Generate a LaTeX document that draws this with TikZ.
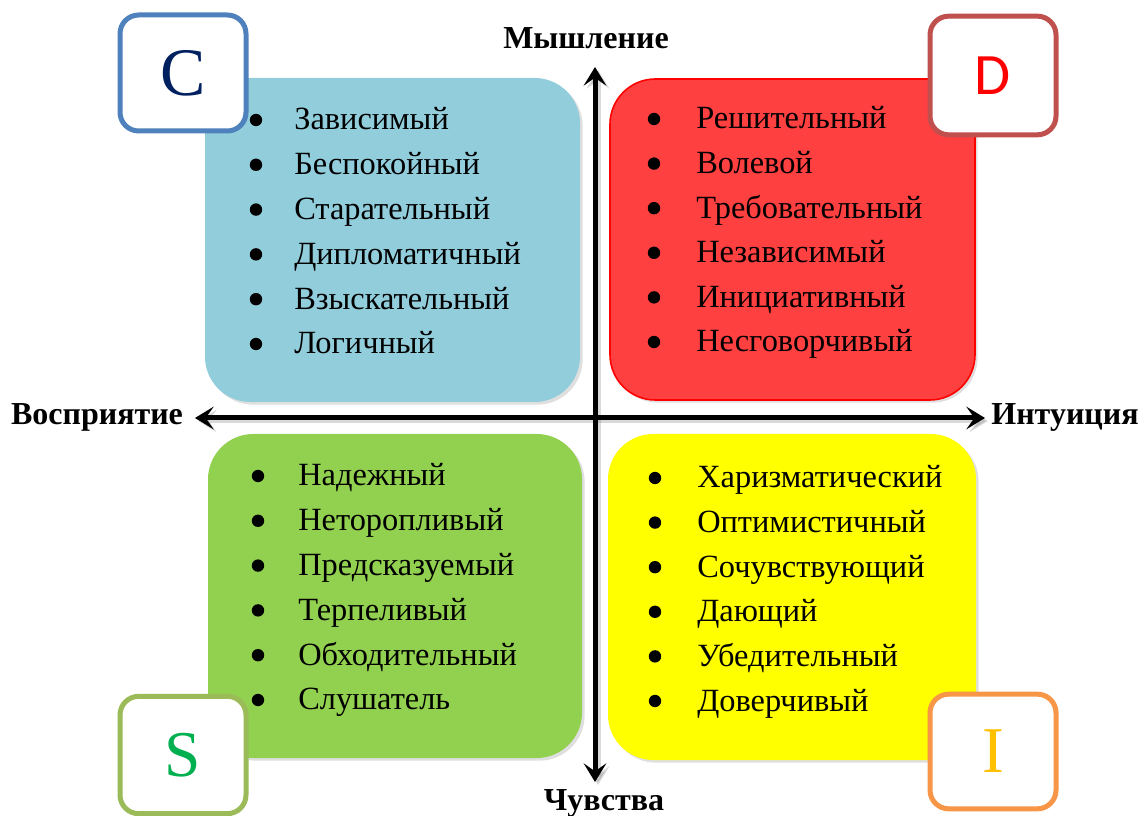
\documentclass[tikz,border=0pt]{standalone}
\usepackage{fontspec}
\setmainfont{Liberation Serif}
\newfontfamily\carlito{Carlito}
\usetikzlibrary{arrows.meta,shadows}
\definecolor{qblue}{HTML}{92CDDC}
\definecolor{qred}{HTML}{FF4040}
\definecolor{qgreen}{HTML}{92D050}
\definecolor{qyellow}{HTML}{FFFF00}
\definecolor{bblue}{HTML}{4F81BD}
\definecolor{bred}{HTML}{C0504D}
\definecolor{bgreen}{HTML}{9BBB59}
\definecolor{borange}{HTML}{F79646}
\definecolor{lnavy}{HTML}{002060}
\definecolor{lred}{HTML}{FF0000}
\definecolor{lgreen}{HTML}{00B050}
\definecolor{lgold}{HTML}{FFC000}
\begin{document}
\begin{tikzpicture}[x=0.75pt,y=-0.75pt,
  quad/.style={rounded corners=34pt, inner sep=0pt,
    drop shadow={opacity=0.25, shadow xshift=2pt, shadow yshift=-2pt}},
  letterbox/.style={draw, line width=3.75pt, rounded corners=14pt, fill=white,
    inner sep=0pt, minimum width=94.5pt, minimum height=87pt},
  item/.style={anchor=base west, inner sep=0pt, font=\fontsize{24.3}{29}\selectfont},
  bul/.style={circle, fill=black, inner sep=0pt, minimum size=9.3pt},
  axislabel/.style={font=\bfseries\fontsize{24}{28}\selectfont, inner sep=0pt},
  axis/.style={line width=3.75pt, {Stealth[length=14pt,width=17pt,inset=6pt]}-{Stealth[length=14pt,width=17pt,inset=6pt]}},
  axisshadow/.style={line width=3.75pt, draw=black!60, opacity=0.25, {Stealth[length=14pt,width=17pt,inset=6pt]}-{Stealth[length=14pt,width=17pt,inset=6pt]}}
]
\useasboundingbox (0,0) rectangle (1140,816);

% quadrant boxes
\node[quad, fill=qblue, minimum width=281.25pt, minimum height=243pt] (qc) at (392.5,240) {};
\node[quad, fill=qred, draw=lred, line width=1.2pt, minimum width=273.75pt, minimum height=240.75pt] (qd) at (792.5,239.5) {};
\node[quad, fill=qgreen, minimum width=280.5pt, minimum height=243pt] (qs) at (395,596) {};
\node[quad, fill=qyellow, minimum width=276pt, minimum height=244.5pt] (qi) at (792,597) {};

% axes
\coordinate (top) at (595,67);
\coordinate (bottom) at (595,782);
\coordinate (left) at (195,418);
\coordinate (right) at (985,418);
\coordinate (tops) at (598,70);
\coordinate (bottoms) at (598,785);
\coordinate (lefts) at (198,421);
\coordinate (rights) at (988,421);
\draw[axisshadow] (bottoms) -- (tops);
\draw[axisshadow] (lefts) -- (rights);
\draw[axis] (bottom) -- (top);
\draw[axis] (left) -- (right);

% axis labels
\node[axislabel] (think) at (586,38) {Мышление};
\node[axislabel] (feel) at (604,803) {Чувства};
\node[axislabel] (perc) at (97,417) {Восприятие};
\node[axislabel] (intu) at (1065,417) {Интуиция};

% lists
\foreach \t [count=\i] in {Зависимый,Беспокойный,Старательный,Дипломатичный,Взыскательный,Логичный}{
  \node[bul] (cb\i) at (256,{120+44.8*(\i-1)}) {};
  \node[item] (ct\i) at (294,{130+44.8*(\i-1)}) {\t};
}
\foreach \t [count=\i] in {Решительный,Волевой,Требовательный,Независимый,Инициативный,Несговорчивый}{
  \node[bul] (db\i) at (654,{119+44.6*(\i-1)}) {};
  \node[item] (dt\i) at (696,{129+44.6*(\i-1)}) {\t};
}
\foreach \t [count=\i] in {Надежный,Неторопливый,Предсказуемый,Терпеливый,Обходительный,Слушатель}{
  \node[bul] (sb\i) at (258,{476+44.8*(\i-1)}) {};
  \node[item] (st\i) at (298,{486+44.8*(\i-1)}) {\t};
}
\foreach \t [count=\i] in {Харизматический,Оптимистичный,Сочувствующий,Дающий,Убедительный,Доверчивый}{
  \node[bul] (ib\i) at (655,{478+44.6*(\i-1)}) {};
  \node[item] (it\i) at (697,{488+44.6*(\i-1)}) {\t};
}

% letter boxes
\node[letterbox, draw=bblue, text=lnavy, font=\fontsize{51}{51}\selectfont] (lc) at (183,73) {C};
\node[letterbox, draw=bred, text=lred, font=\carlito\fontsize{44}{44}\selectfont, minimum height=89pt] (ld) at (993,75.5) {D};
\node[letterbox, draw=bgreen, text=lgreen, font=\fontsize{49}{49}\selectfont, minimum height=88pt] (ls) at (183,755) {S};
\node[letterbox, draw=borange, text=lgold, font=\fontsize{49}{49}\selectfont, minimum height=86pt] (li) at (993,751.5) {I};
\end{tikzpicture}
\end{document}
